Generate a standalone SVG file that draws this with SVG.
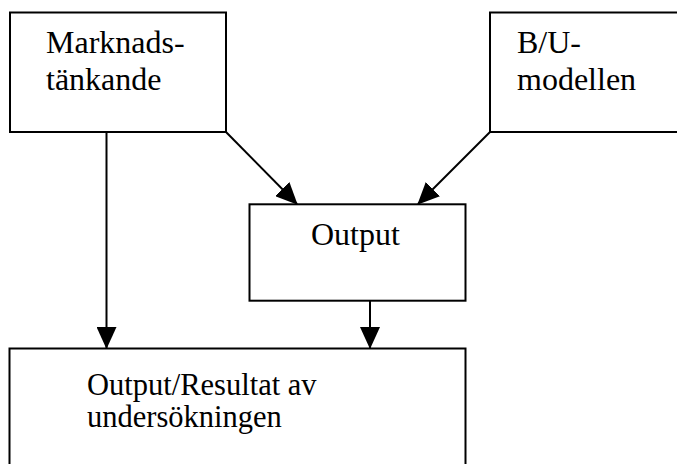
<svg xmlns="http://www.w3.org/2000/svg" width="677" height="464" viewBox="0 0 677 464">
<style>
.box{fill:#fff;stroke:#000;stroke-width:2}
.lbl{font-family:"Liberation Serif","Times New Roman",serif;font-size:32px;fill:#000}
.sm{font-size:30.5px}
.conn{stroke:#000;stroke-width:2;fill:none;marker-end:url(#ah)}
</style>
<defs>
<marker id="ah" markerUnits="userSpaceOnUse" markerWidth="22" markerHeight="20" viewBox="0 0 22 20" refX="21" refY="10" orient="auto">
<path d="M0,0 L22,10 L0,20 Z" fill="#000"/>
</marker>
</defs>
<rect width="677" height="464" fill="#fff"/>
<g id="connectors">
<path class="conn" d="M106.5,132 V348"/>
<path class="conn" d="M226,132 L297,204"/>
<path class="conn" d="M490,132 L418,204"/>
<path class="conn" d="M370,300.7 V348"/>
</g>
<g id="marknads">
<rect class="box" x="10" y="12.5" width="216" height="119.5"/>
<text class="lbl" x="46" y="53">Marknads-</text>
<text class="lbl" x="46" y="90">tänkande</text>
</g>
<g id="bu">
<rect class="box" x="490" y="12.5" width="200" height="119.5"/>
<text class="lbl" x="517" y="53">B/U-</text>
<text class="lbl" x="517" y="90">modellen</text>
</g>
<g id="output">
<rect class="box" x="249.5" y="204.3" width="216" height="96.4"/>
<text class="lbl" x="311" y="245">Output</text>
</g>
<g id="resultat">
<rect class="box" x="9.5" y="348.5" width="456" height="130"/>
<text class="lbl sm" x="87" y="395">Output/Resultat av</text>
<text class="lbl sm" x="87" y="427">undersökningen</text>
</g>
</svg>
